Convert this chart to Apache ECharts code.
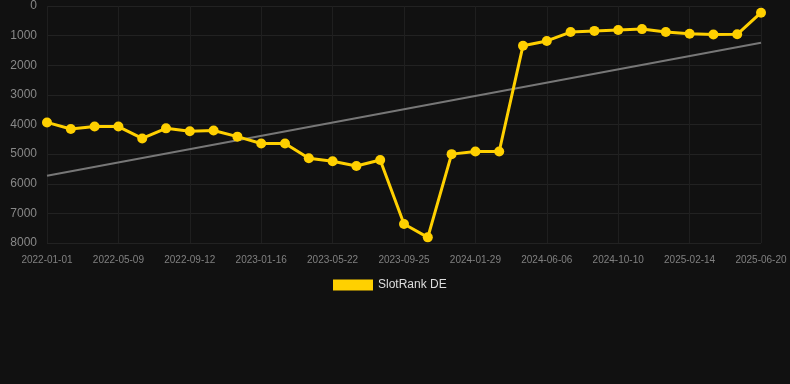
<!DOCTYPE html>
<html><head><meta charset="utf-8">
<script src="https://cdn.jsdelivr.net/npm/echarts@6/dist/echarts.min.js"></script>
<style>html,body{margin:0;padding:0;background:#111111;}#c{width:790px;height:384px;}</style>
</head><body><div id="c"></div>
<script>
const categories = ['2022-01-01','2022-02-13','2022-03-27','2022-05-09','2022-06-20','2022-08-01','2022-09-12','2022-10-24','2022-12-05','2023-01-16','2023-02-27','2023-04-10','2023-05-22','2023-07-03','2023-08-14','2023-09-25','2023-11-06','2023-12-18','2024-01-29','2024-03-12','2024-04-24','2024-06-06','2024-07-18','2024-08-29','2024-10-10','2024-11-21','2025-01-02','2025-02-14','2025-03-28','2025-05-09','2025-06-20'];
const rankDE = [3930,4150,4070,4070,4470,4130,4230,4200,4410,4640,4640,5140,5240,5400,5200,7360,7810,5000,4910,4910,1340,1180,880,840,810,780,880,935,965,955,225];
const trendDates = ['2022-01-01','2025-06-20'];
const trendValues = [5730,1240];
const yTicks = [0,1000,2000,3000,4000,5000,6000,7000,8000];

const chart = echarts.init(document.getElementById('c'), null, {renderer:'canvas'});
chart.setOption({
  backgroundColor:'#111111',
  animation:false,
  grid:{left:47,right:29,top:6,bottom:141,containLabel:false},
  legend:{top:274,left:328,itemWidth:40,itemHeight:11,itemGap:10,icon:'rect',
    textStyle:{color:'#dddddd',fontSize:12,fontFamily:'Arial, Liberation Sans, sans-serif'},
    data:[{name:'SlotRank DE'}]},
  xAxis:{type:'category',data:categories,boundaryGap:false,
    axisLine:{show:false},axisTick:{show:false},
    axisLabel:{interval:2,color:'#808080',fontSize:10,margin:12,fontFamily:'Arial, Liberation Sans, sans-serif'},
    splitLine:{show:true,interval:2,lineStyle:{color:'#1f1f1f',width:1}}},
  yAxis:{type:'value',inverse:true,min:yTicks[0],max:yTicks[yTicks.length-1],interval:1000,
    axisLine:{show:false},axisTick:{show:false},
    axisLabel:{color:'#888888',fontSize:12,margin:10,fontFamily:'Arial, Liberation Sans, sans-serif',formatter:v=>String(v)},
    splitLine:{lineStyle:{color:'#222222',width:1}}},
  series:[
    {name:'Trend',type:'line',data:trendDates.map((d,i)=>[d,trendValues[i]]),
     symbol:'none',lineStyle:{color:'#777777',width:2},itemStyle:{color:'#777777'},z:1,silent:true},
    {name:'SlotRank DE',type:'line',data:rankDE,symbol:'circle',symbolSize:10,
     lineStyle:{color:'#FFD000',width:3},itemStyle:{color:'#FFD000'},z:2}
  ]
});
</script></body></html>
